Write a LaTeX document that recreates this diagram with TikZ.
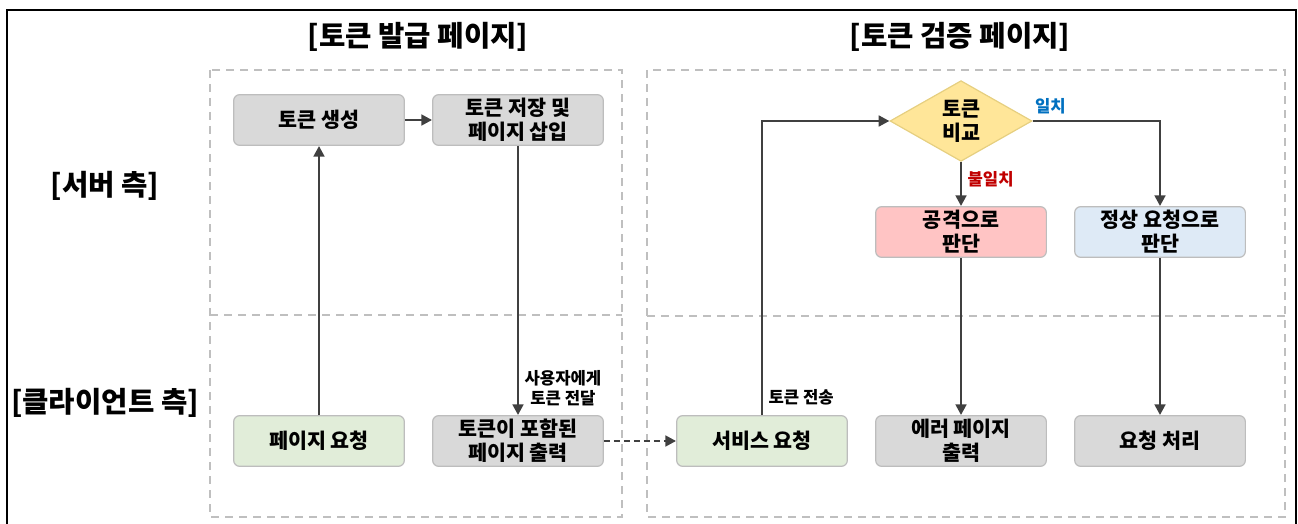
\documentclass[tikz,border=0pt]{standalone}
\usepackage{fontspec}
\setmainfont{Noto Sans CJK KR}
\usetikzlibrary{arrows.meta,shapes.geometric}
\definecolor{gbox}{HTML}{D9D9D9}
\definecolor{gline}{HTML}{BDBDBD}
\definecolor{greenbox}{HTML}{E1EDD9}
\definecolor{pinkbox}{HTML}{FFC4C4}
\definecolor{bluebox}{HTML}{DEEAF6}
\definecolor{yellowbox}{HTML}{FFE699}
\definecolor{yline}{HTML}{E6CF80}
\definecolor{arrc}{HTML}{404040}
\definecolor{dashc}{HTML}{BFBFBF}
\definecolor{okblue}{HTML}{0070C0}
\definecolor{badred}{HTML}{C00000}
\begin{document}
\begin{tikzpicture}[x=0.75pt,y=-0.75pt,
  box/.style={draw=gline, line width=0.9pt, rounded corners=4.5pt, minimum width=128pt, minimum height=38pt, align=center, inner sep=0pt, font=\bfseries\fontsize{15.5}{18}\selectfont},
  graybox/.style={box, fill=gbox},
  greenbox/.style={box, fill=greenbox},
  pinkbox/.style={box, fill=pinkbox},
  bluebox/.style={box, fill=bluebox},
  decision/.style={diamond, draw=yline, line width=0.9pt, fill=yellowbox, minimum width=106.5pt, minimum height=58.5pt, inner sep=0pt, align=center, font=\bfseries\fontsize{15.5}{18}\selectfont},
  arr/.style={draw=arrc, line width=1.9pt, -{Triangle[length=8pt,width=8pt]}},
  dasharr/.style={arr, dash pattern=on 4.5pt off 3pt},
  region/.style={draw=dashc, line width=1.1pt, dash pattern=on 6pt off 4.5pt},
  title/.style={font=\bfseries\fontsize{21.5}{24}\selectfont},
  lbl/.style={font=\bfseries\fontsize{12.5}{15.5}\selectfont, align=center, inner sep=4pt}
]
\useasboundingbox (0,0) rectangle (1298,524);
% outer frame
\draw[line width=1.5pt] (7,560) -- (7,10) -- (1296,10) -- (1296,560);
% regions
\draw[region] (210,70) rectangle (622,517);
\draw[region] (210,315) -- (622,315);
\draw[region] (647,70) rectangle (1285,517);
\draw[region] (647,316) -- (1285,316);
% titles
\node[title] (t1) at (418,37) {[토큰 발급 페이지]};
\node[title] (t2) at (960,37) {[토큰 검증 페이지]};
\node[title] (s1) at (105,186) {[서버 측]};
\node[title] (s2) at (105,403) {[클라이언트 측]};
% nodes
\node[graybox] (gen) at (319,120) {토큰 생성};
\node[graybox] (store) at (518,120) {토큰 저장 및\\페이지 삽입};
\node[greenbox] (preq) at (319,441) {페이지 요청};
\node[graybox] (pout) at (518,441) {토큰이 포함된\\페이지 출력};
\node[greenbox] (sreq) at (762,441) {서비스 요청};
\node[graybox] (err) at (961,441) {에러 페이지\\출력};
\node[graybox] (proc) at (1160,441) {요청 처리};
\node[pinkbox] (atk) at (961,232) {공격으로\\판단};
\node[bluebox] (ok) at (1160,232) {정상 요청으로\\판단};
\node[decision] (cmp) at (961,121) {토큰\\비교};
% edges
\draw[arr] (preq) -- (gen);
\draw[arr] (gen) -- (store);
\draw[arr] (store) -- node[lbl, right, pos=0.9] {사용자에게\\토큰 전달} (pout);
\draw[dasharr] (pout) -- (sreq);
\draw[arr] (sreq.north) |- node[lbl, right, pos=0.03] {토큰 전송} (cmp.west);
\draw[arr] (cmp.east) -| node[lbl, above, pos=0.07, text=okblue] {일치} (ok.north);
\draw[arr] (cmp.south) -- node[lbl, right, pos=0.4, text=badred] {불일치} (atk.north);
\draw[arr] (atk) -- (err);
\draw[arr] (ok) -- (proc);
\end{tikzpicture}
\end{document}
